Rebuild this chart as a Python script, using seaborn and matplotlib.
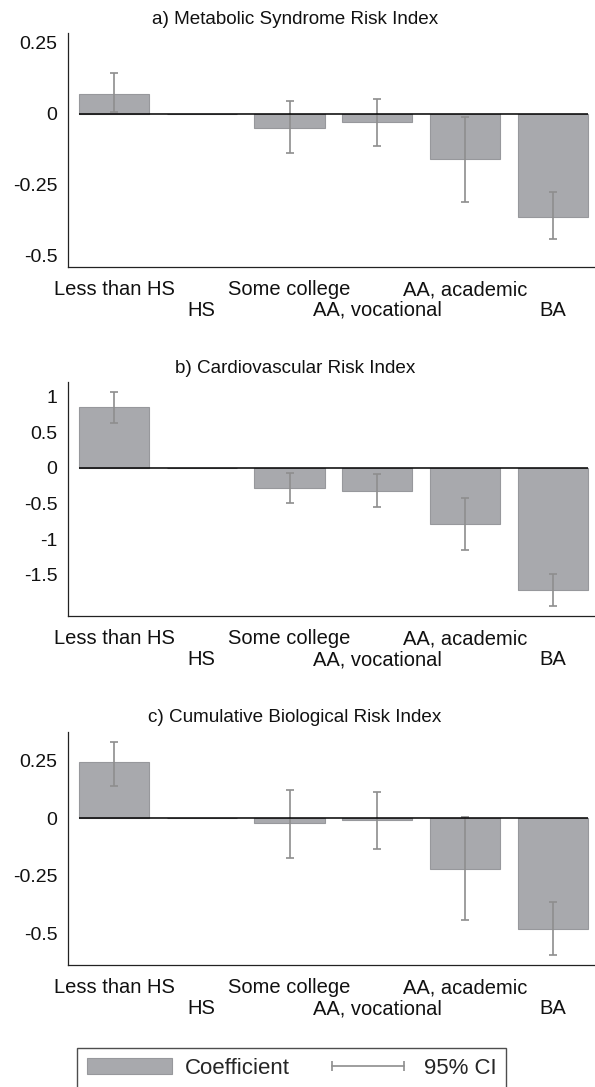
import matplotlib
matplotlib.use('Agg')
import matplotlib.pyplot as plt
import numpy as np
import pandas as pd
import seaborn as sns
from matplotlib.patches import Patch
from matplotlib.lines import Line2D

# education levels (HS is the reference category)
levels = ['Less than HS', 'HS', 'Some college', 'AA, vocational', 'AA, academic', 'BA']

# a) Metabolic Syndrome Risk Index
metab_coef = [0.069, 0.0, -0.049, -0.029, -0.158, -0.362]
metab_lo = [0.006, np.nan, -0.136, -0.114, -0.311, -0.442]
metab_hi = [0.143, np.nan, 0.045, 0.052, -0.012, -0.276]

# b) Cardiovascular Risk Index
cardio_coef = [0.850, 0.0, -0.276, -0.322, -0.785, -1.715]
cardio_lo = [0.631, np.nan, -0.486, -0.547, -1.150, -1.930]
cardio_hi = [1.061, np.nan, -0.065, -0.089, -0.425, -1.486]

# c) Cumulative Biological Risk Index
cumul_coef = [0.241, 0.0, -0.020, -0.010, -0.222, -0.481]
cumul_lo = [0.139, np.nan, -0.172, -0.133, -0.443, -0.593]
cumul_hi = [0.330, np.nan, 0.120, 0.114, 0.006, -0.365]

titles = ['a) Metabolic Syndrome Risk Index',
          'b) Cardiovascular Risk Index',
          'c) Cumulative Biological Risk Index']
yticks_a = [0.25, 0, -0.25, -0.5]
ytick_labels_a = ['0.25', '0', '-0.25', '-0.5']
yticks_b = [1, 0.5, 0, -0.5, -1, -1.5]
ytick_labels_b = ['1', '0.5', '0', '-0.5', '-1', '-1.5']
yticks_c = [0.25, 0, -0.25, -0.5]
ytick_labels_c = ['0.25', '0', '-0.25', '-0.5']

sns.set_style('white')
plt.rcParams['font.family'] = ['Liberation Sans', 'DejaVu Sans']

bar_color = '#a8a9ad'
bar_edge = '#97989c'
ci_color = '#8e8e8e'
axis_color = '#222222'

fig = plt.figure(figsize=(5.95, 10.87), dpi=100)

panels = [
    (metab_coef, metab_lo, metab_hi, yticks_a, ytick_labels_a, (-0.539, 0.285), [0.1143, 0.7544, 0.8857, 0.2153], 20),
    (cardio_coef, cardio_lo, cardio_hi, yticks_b, ytick_labels_b, (-2.076, 1.206), [0.1143, 0.4333, 0.8857, 0.2153], 369),
    (cumul_coef, cumul_lo, cumul_hi, yticks_c, ytick_labels_c, (-0.636, 0.374), [0.1143, 0.1122, 0.8857, 0.2146], 717),
]

for i, (coef, lo, hi, yt, ytl, ylim, pos, title_y) in enumerate(panels):
    ax = fig.add_axes(pos)
    df = pd.DataFrame({'level': levels, 'coef': coef, 'lo': lo, 'hi': hi})
    sns.barplot(data=df, x='level', y='coef', color=bar_color, saturation=1,
                width=0.8, edgecolor=bar_edge, linewidth=0.8, ax=ax)
    x = np.arange(len(levels))
    c = df['coef'].values
    ax.errorbar(x, c, yerr=[c - df['lo'].values, df['hi'].values - c], fmt='none',
                ecolor=ci_color, elinewidth=1.2, capsize=3, capthick=1.2, zorder=3)
    ax.hlines(0, -0.4, len(levels) - 0.6, color='black', linewidth=1.1, zorder=4)

    ax.set_xlim(-0.524, 5.48)
    ax.set_ylim(*ylim)
    ax.set_yticks(yt)
    ax.set_yticklabels(ytl)
    ax.set_xlabel('')
    ax.set_ylabel('')

    sns.despine(ax=ax)
    for s in ['left', 'bottom']:
        ax.spines[s].set_color(axis_color)
        ax.spines[s].set_linewidth(0.9)
    ax.tick_params(axis='both', which='both', direction='out', colors=axis_color,
                   labelcolor='#111111', width=0.9)
    ax.tick_params(axis='y', length=6, pad=1.5, labelsize=14)
    ax.tick_params(axis='x', length=5, pad=4.5, labelsize=14.5)
    for j, tick in enumerate(ax.xaxis.get_major_ticks()):
        if j % 2 == 1:
            tick.set_pad(19.5)

    fig.text(295 / 595, 1 - title_y / 1087, titles[i], ha='center', va='center',
             fontsize=13.6, color='#111111')

handles = [Patch(facecolor=bar_color, edgecolor=bar_edge, linewidth=0.8),
           Line2D([], [], color=ci_color, linewidth=1.2, marker='|', markersize=7,
                  markeredgewidth=1.2)]
leg = fig.legend(handles, ['Coefficient', '95% CI'], loc='upper left',
                 bbox_to_anchor=(77 / 595, 1 - 1048 / 1087), ncol=2, numpoints=2,
                 fontsize=16, frameon=True, fancybox=False, handlelength=3.83,
                 handleheight=0.72, handletextpad=0.59, columnspacing=1.58,
                 borderpad=0.45, borderaxespad=0)
leg.get_frame().set_edgecolor('#222222')
leg.get_frame().set_linewidth(1.0)

fig.savefig('out.png', dpi=100)
